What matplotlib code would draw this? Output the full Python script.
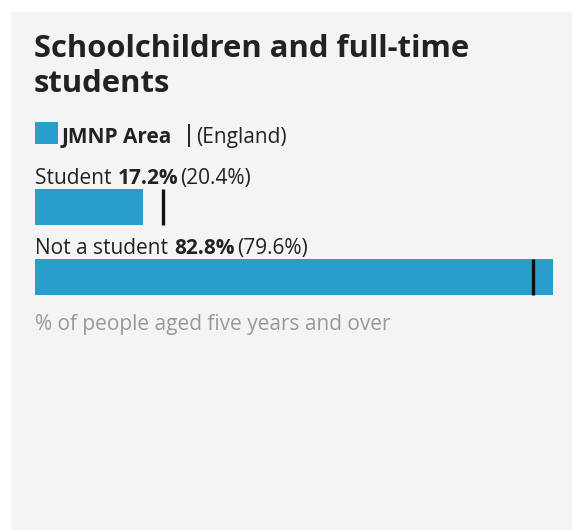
import matplotlib
matplotlib.use("Agg")
import matplotlib.pyplot as plt
from matplotlib.patches import Rectangle

# ---- data ----
categories = ["Student", "Not a student"]
area_values = [17.2, 82.8]
england_values = [20.4, 79.6]
title_lines = ["Schoolchildren and full-time", "students"]
area_name = "JMNP Area"
comparison_name = "(England)"
footnote = "% of people aged five years and over"

# ---- style ----
W, H = 572, 530
DPI = 100
BAR_COLOR = "#279ecb"
PANEL_COLOR = "#f4f4f4"
TEXT_COLOR = "#222222"
NOTE_COLOR = "#999999"
FONT = ["Open Sans", "DejaVu Sans"]
FS = 15

plt.rcParams["font.family"] = FONT

fig = plt.figure(figsize=(W / DPI, H / DPI), dpi=DPI)
fig.patch.set_facecolor("white")


def fx(x):
    return x / W


def fy(y):
    return 1 - y / H


# panel background
fig.patches.append(Rectangle((fx(11), 0), 1 - fx(11), fy(12), transform=fig.transFigure,
                             facecolor=PANEL_COLOR, edgecolor="none", zorder=-5))

# title
for i, line in enumerate(title_lines):
    fig.text(fx(34), fy(57 + 35 * i), line, fontsize=22.3, fontweight="bold",
             color=TEXT_COLOR, va="baseline", ha="left")

# legend swatch
fig.patches.append(Rectangle((fx(35), fy(144)), fx(23), 22 / H, transform=fig.transFigure,
                             facecolor=BAR_COLOR, edgecolor="none", zorder=1))

renderer = fig.canvas.get_renderer()


def run_text(x_px, y_px, pieces):
    """Draw consecutive text pieces [(text, weight, color, gap)] from pixel x along baseline y."""
    x = x_px
    for txt, weight, color, gap in pieces:
        t = fig.text(fx(x), fy(y_px), txt, fontsize=FS, fontweight=weight, color=color,
                     va="baseline", ha="left")
        bb = t.get_window_extent(renderer=renderer)
        x = x + bb.width + gap
    return x


x_end = run_text(62, 143, [(area_name, "bold", TEXT_COLOR, 0)])
fig.lines.append(plt.Line2D([fx(x_end + 17)] * 2, [fy(125), fy(146)], transform=fig.transFigure,
                            color=TEXT_COLOR, lw=1.4))
run_text(x_end + 24, 143, [(comparison_name, "normal", TEXT_COLOR, 0)])

# bar axes: 0 .. max value spans 35..553 px
top_px, bottom_px = 171.5, 312.5
ax = fig.add_axes([fx(35), fy(bottom_px), fx(553) - fx(35), (bottom_px - top_px) / H])
ax.set_zorder(2)
ax.set_facecolor("none")
ax.set_xlim(0, max(area_values))
ax.set_ylim(len(categories) - 0.5, -0.5)
ax.axis("off")

bar_h = 36 / 70.5
ypos = list(range(len(categories)))
ax.barh(ypos, area_values, height=bar_h, color=BAR_COLOR, edgecolor="none")
ax.vlines(england_values, [y - bar_h / 2 for y in ypos], [y + bar_h / 2 for y in ypos],
          color="#111111", lw=2.4)

# labels above bars
fig.canvas.draw()
for y, cat, v, e in zip(ypos, categories, area_values, england_values):
    disp = ax.transData.transform((0, y))
    base_px = (H - disp[1]) - 23
    run_text(35, base_px, [(cat + " ", "normal", TEXT_COLOR, 1),
                           (f"{v:.1f}%", "bold", TEXT_COLOR, 2),
                           (f"({e:.1f}%)", "normal", TEXT_COLOR, 0)])

# footnote
fig.text(fx(35), fy(330), footnote, fontsize=FS, color=NOTE_COLOR, va="baseline", ha="left")

fig.savefig("out.png", dpi=DPI, facecolor=fig.get_facecolor())
